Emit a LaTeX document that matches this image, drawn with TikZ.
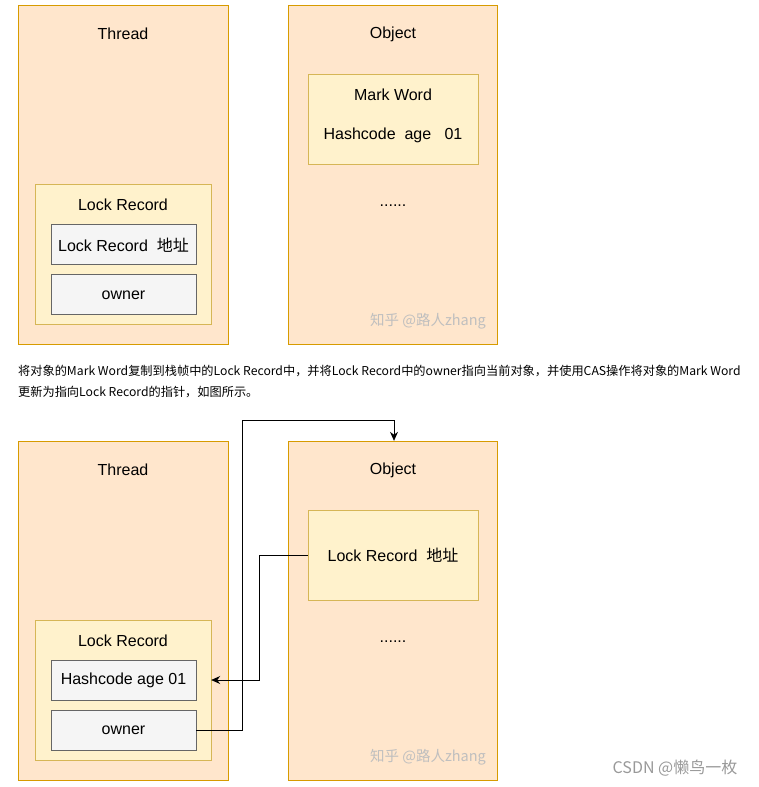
\documentclass[tikz,border=0pt]{standalone}
\usepackage{fontspec}
\setmainfont{Liberation Sans}
\newfontfamily\cjk{Noto Sans CJK SC}
\usetikzlibrary{arrows.meta}
\definecolor{outerfill}{HTML}{FFE6CC}
\definecolor{outerline}{HTML}{D79B00}
\definecolor{innerfill}{HTML}{FFF2CC}
\definecolor{innerline}{HTML}{D6B656}
\definecolor{grayfill}{HTML}{F5F5F5}
\definecolor{grayline}{HTML}{666666}
\tikzset{
  frame/.style={draw=outerline,fill=outerfill},
  inner/.style={draw=innerline,fill=innerfill},
  cell/.style={draw=grayline,fill=grayfill},
  lbl/.style={font=\fontsize{16}{19}\selectfont},
  wmark/.style={font=\cjk\fontsize{14.5}{17}\selectfont,text=black!25},
  link/.style={draw,thick,-{Stealth[length=9pt,width=8pt]}}
}
\begin{document}
\begin{tikzpicture}[x=1pt,y=-1pt]
  \useasboundingbox (0,0) rectangle (759,787);

  % before
  \draw[frame] (18,5) rectangle (228,344);
  \node[lbl] (t1) at (123,34) {Thread};
  \draw[inner] (35,184) rectangle (211,324);
  \node[lbl] (lr1) at (123,205) {Lock Record};
  \draw[cell] (51,224) rectangle (196,264);
  \node[lbl] (lra1) at (123.5,245) {Lock Record\ \ {\cjk 地址}};
  \draw[cell] (51,274) rectangle (196,314);
  \node[lbl] (ow1) at (123.5,295) {owner};

  \draw[frame] (288,5) rectangle (497,344);
  \node[lbl] (o1) at (393,34) {Object};
  \draw[inner] (308,74) rectangle (478,164);
  \node[lbl] (mw1) at (393,95) {Mark Word};
  \node[lbl] (hc1) at (393,135) {Hashcode\ \ age\ \ \ 01};
  \node[lbl] (dots1) at (393,206) {......};
  \node[wmark] (wm1) at (428,321) {知乎 @路人zhang};

  % text
  \node[font=\cjk\fontsize{12.2}{15}\selectfont,anchor=west,inner sep=0] (desc1) at (18,371)
    {将对象的Mark Word复制到栈帧中的Lock Record中，并将Lock Record中的owner指向当前对象，并使用CAS操作将对象的Mark Word};
  \node[font=\cjk\fontsize{12.2}{15}\selectfont,anchor=west,inner sep=0] (desc2) at (18,392)
    {更新为指向Lock Record的指针，如图所示。};

  % after
  \draw[frame] (18,441) rectangle (228,780);
  \node[lbl] (t2) at (123,470) {Thread};
  \draw[inner] (35,620) rectangle (211,760);
  \node[lbl] (lr2) at (123,641) {Lock Record};
  \node[cell,lbl,minimum width=145,minimum height=40] (hc2) at (123.5,680) {Hashcode age 01};
  \node[cell,lbl,minimum width=145,minimum height=40] (ow2) at (123.5,730) {owner};

  \node[frame,minimum width=209,minimum height=339] (o2) at (392.5,610.5) {};
  \node[lbl] (o2t) at (393,470) {Object};
  \node[inner,lbl,minimum width=170,minimum height=90] (lra2) at (393,555) {Lock Record\ \ {\cjk 地址}};
  \node[lbl] (dots2) at (393,642) {......};
  \node[wmark] (wm2) at (428,757) {知乎 @路人zhang};
  \node[wmark,text=black!40,font=\cjk\fontsize{16}{19}\selectfont] (wm3) at (675,768) {CSDN @懒鸟一枚};

  \coordinate (top) at (394,420);
  \draw[link] (ow2.east) -- ++(46,0) |- (top) -- (o2.north -| top);
  \draw[link] (lra2.west) -- ++(-48,0) |- ([xshift=15]hc2.east);
\end{tikzpicture}
\end{document}
